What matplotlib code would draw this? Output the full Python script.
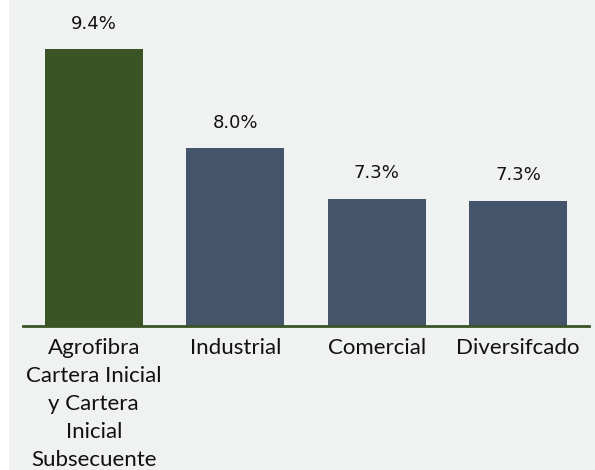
import matplotlib.pyplot as plt
from matplotlib.patches import Rectangle

categories = ['Agrofibra\nCartera Inicial\ny Cartera\nInicial\nSubsecuente',
              'Industrial', 'Comercial', 'Diversifcado']
values = [9.39, 8.0, 7.29, 7.26]
labels = ['9.4%', '8.0%', '7.3%', '7.3%']
colors = ['#3a5426', '#44546a', '#44546a', '#44546a']

bg = '#f0f1f1'
fig = plt.figure(figsize=(5.95, 4.70), dpi=100, facecolor='white')
# grey panel, with a thin white strip on the left
fig.patches.append(Rectangle((9 / 595, 0), 1, 1, transform=fig.transFigure,
                             facecolor=bg, edgecolor='none', zorder=-10))

ax = fig.add_axes([23 / 595, 144 / 470, 566 / 595, 326 / 470])
ax.set_facecolor('none')

x = range(len(categories))
bars = ax.bar(x, values, width=0.69, color=colors, bottom=0, zorder=2)
ax.set_xlim(-0.5, len(categories) - 0.5)
ax.set_ylim(5.51, 10.08)

for b, lab in zip(bars, labels):
    ax.annotate(lab, (b.get_x() + b.get_width() / 2, b.get_height()),
                xytext=(0, 12), textcoords='offset points',
                ha='center', va='bottom', fontsize=13, color='#111111')

# axis styling
for s in ['top', 'right', 'left']:
    ax.spines[s].set_visible(False)
ax.spines['bottom'].set_color('#3a5426')
ax.spines['bottom'].set_linewidth(2)
ax.set_yticks([])
ax.set_xticks(list(x))
ax.set_xticklabels(categories, fontsize=16, family='Lato', linespacing=1.5,
                   color='#111111', va='top')
ax.tick_params(axis='x', length=0, pad=9)

fig.savefig('out.png', dpi=100, facecolor=fig.get_facecolor())
